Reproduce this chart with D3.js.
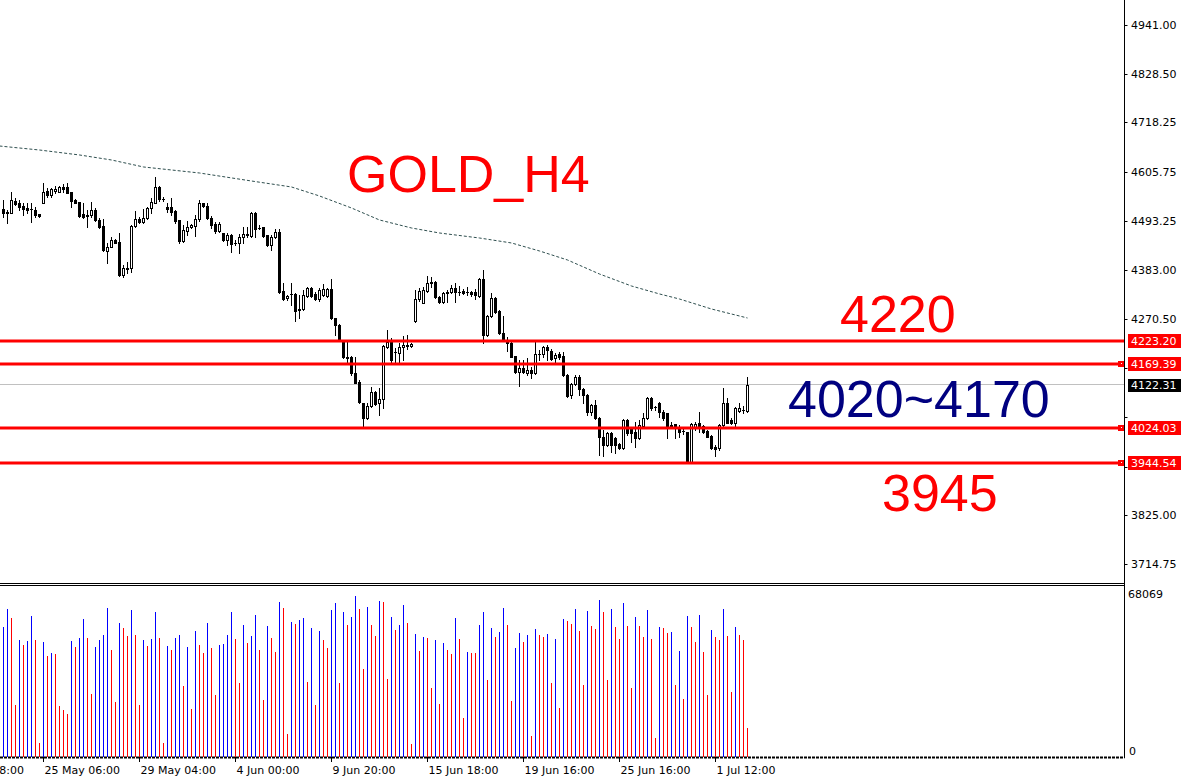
<!DOCTYPE html>
<html><head><meta charset="utf-8">
<script src="https://cdn.jsdelivr.net/npm/d3@7"></script>
<style>body{margin:0;background:#fff;} svg{display:block;}</style>
</head><body><svg id="c" width="1182" height="777"></svg>
<script>
// ---------- DATA ----------
const opens = [4521.7,4516.4,4512.6,4541.4,4536.9,4529.3,4524.0,4521.7,4520.2,4510.4,
4536.9,4564.2,4554.3,4563.4,4561.9,4571.7,4573.3,4560.4,4542.9,4539.2,
4510.4,4508.1,4508.1,4520.2,4497.5,4483.8,4427.7,4436.8,4452.0,4448.2,
4372.4,4386.5,4387.5,4483.8,4499.0,4493.7,4501.2,4524.0,4536.9,4573.3,
4545.2,4526.3,4526.3,4518.7,4497.5,4450.5,4473.2,4480.8,4484.6,4499.0,
4535.4,4529.3,4502.7,4488.4,4473.2,4467.1,4452.0,4463.4,4444.4,4444.4,
4458.1,4464.1,4461.1,4514.2,4480.0,4480.8,4462.6,4440.6,4459.6,4470.2,
4336.7,4319.2,4328.3,4328.3,4292.7,4294.2,4325.3,4342.0,4328.3,4316.9,
4326.8,4324.5,4339.7,4273.8,4258.6,4224.5,4186.6,4186.6,4148.7,4129.7,
4082.0,4046.4,4074.4,4107.0,4080.5,4089.6,4207.8,4220.7,4196.4,4194.2,
4207.8,4211.6,4210.8,4268.5,4316.9,4309.4,4336.7,4354.8,4357.1,4321.5,
4311.6,4330.6,4334.4,4342.0,4334.4,4335.9,4332.9,4334.4,4334.4,4324.5,
4363.2,4235.9,4279.1,4319.2,4291.2,4241.2,4224.5,4218.4,4188.1,4152.5,
4160.0,4150.2,4156.3,4148.7,4192.6,4192.6,4207.8,4200.2,4182.8,4192.6,
4188.1,4144.9,4099.4,4124.4,4141.1,4112.3,4099.4,4061.5,4076.6,4046.3,
4003.1,3985.7,4013.7,4000.8,3987.9,3978.1,4042.5,4021.3,4016.0,4000.8,
4028.9,4046.3,4091.8,4071.3,4080.4,4061.5,4057.7,4031.2,4032.7,4027.4,
4017.5,4016.0,3947.7,4027.4,4034.9,4028.9,4018.3,4006.2,3981.9,3978.1,
4031.2,4081.9,4042.5,4034.9,4063.8,4065.3,4063.0];
const highs = [4542.9,4520.2,4560.4,4546.7,4542.9,4535.4,4535.4,4535.4,4527.8,4511.1,
4580.8,4569.5,4569.5,4575.5,4574.8,4579.3,4580.8,4561.9,4544.5,4539.2,
4535.4,4520.2,4539.2,4524.0,4501.2,4499.0,4444.4,4459.6,4454.3,4467.1,
4395.1,4402.7,4486.1,4517.9,4505.1,4521.7,4527.8,4546.7,4596.0,4574.8,
4549.0,4536.9,4546.7,4520.2,4497.5,4486.1,4495.2,4488.4,4508.8,4542.9,
4536.9,4535.4,4506.6,4492.9,4493.7,4468.6,4467.1,4465.6,4452.0,4465.6,
4480.8,4482.3,4516.4,4515.6,4486.1,4482.3,4464.1,4463.4,4476.2,4476.2,
4353.3,4326.8,4353.3,4330.6,4326.8,4338.2,4345.8,4345.8,4334.4,4342.0,
4351.8,4342.0,4363.2,4273.8,4260.1,4224.5,4224.5,4188.1,4186.6,4133.5,
4082.0,4080.5,4116.8,4108.5,4114.6,4213.1,4247.2,4228.3,4205.5,4218.4,
4233.6,4235.9,4216.9,4338.2,4342.0,4344.2,4370.0,4368.5,4358.6,4324.5,
4334.4,4338.2,4349.5,4353.3,4347.3,4339.7,4344.2,4335.9,4339.7,4364.7,
4383.7,4281.3,4330.6,4321.5,4292.7,4279.1,4232.1,4220.7,4188.1,4179.0,
4179.0,4182.8,4162.3,4220.7,4201.7,4210.8,4213.1,4203.3,4194.2,4197.9,
4197.9,4147.2,4127.5,4144.9,4144.9,4114.5,4101.7,4078.9,4088.0,4048.6,
4019.8,4016.0,4016.0,4003.1,3989.5,4044.1,4044.1,4023.6,4038.7,4042.5,
4057.7,4095.6,4095.6,4074.4,4084.2,4065.3,4057.7,4038.7,4033.4,4031.2,
4021.3,4016.0,4034.9,4037.2,4061.5,4031.2,4019.8,4008.4,3985.7,4033.4,
4114.5,4091.8,4046.3,4072.9,4080.4,4074.4,4141.1];
const lows = [4505.1,4489.9,4512.6,4531.6,4520.2,4508.8,4512.6,4493.7,4505.1,4505.1,
4535.4,4550.5,4550.5,4558.1,4560.4,4561.9,4558.1,4527.8,4535.4,4505.1,
4501.2,4482.3,4505.1,4495.9,4478.5,4427.7,4400.4,4435.3,4444.4,4370.1,
4367.1,4376.2,4379.9,4482.3,4489.9,4491.4,4499.0,4512.6,4535.4,4541.4,
4541.4,4516.4,4508.8,4489.9,4445.9,4448.2,4463.4,4478.5,4461.1,4495.9,
4527.8,4499.0,4478.5,4468.6,4470.9,4450.5,4440.6,4425.4,4440.6,4423.2,
4444.4,4459.6,4458.1,4458.1,4477.7,4459.6,4438.3,4429.2,4455.8,4332.2,
4315.4,4315.4,4304.1,4268.5,4273.8,4292.7,4323.0,4323.0,4315.4,4313.9,
4324.5,4323.0,4271.5,4235.9,4223.0,4182.8,4171.4,4144.9,4125.9,4082.0,
4027.4,4044.1,4072.9,4076.7,4054.0,4070.6,4205.5,4171.4,4171.4,4171.4,
4179.0,4203.3,4209.3,4266.2,4313.9,4307.9,4334.4,4345.8,4319.2,4307.9,
4307.9,4311.6,4332.1,4311.6,4326.8,4328.3,4326.8,4324.5,4316.9,4323.0,
4218.4,4233.6,4276.1,4286.6,4238.1,4223.0,4200.2,4185.0,4150.2,4119.9,
4150.2,4144.9,4137.3,4147.2,4179.0,4185.0,4179.0,4179.0,4171.4,4180.5,
4142.6,4095.6,4091.8,4122.2,4099.4,4081.9,4053.9,4053.9,4044.1,3962.9,
3960.6,3983.4,3970.5,3968.2,3975.8,3976.6,4008.4,3993.3,3981.9,3998.6,
4025.9,4044.1,4065.3,4065.3,4048.6,4042.5,4000.8,4025.9,4000.8,4004.6,
4010.7,3945.5,3946.2,4019.8,4016.0,4012.2,4003.1,3975.8,3960.6,3974.3,
4027.4,4034.9,4033.4,4028.9,4061.5,4057.7,4061.5];
const closes = [4514.2,4514.2,4542.9,4533.9,4527.8,4521.7,4520.2,4522.5,4508.8,4506.6,
4561.9,4554.3,4567.2,4567.2,4571.7,4567.2,4559.6,4541.4,4536.9,4506.6,
4503.5,4507.5,4520.2,4497.5,4482.3,4429.2,4435.3,4452.0,4445.9,4372.4,
4387.5,4387.5,4483.8,4499.0,4493.7,4501.2,4524.0,4539.2,4571.7,4544.5,
4544.8,4522.5,4516.4,4495.9,4450.5,4474.7,4480.8,4486.1,4499.0,4535.4,
4529.3,4501.2,4486.1,4473.2,4487.6,4452.0,4463.4,4442.9,4444.0,4458.1,
4465.6,4464.5,4514.2,4477.0,4479.6,4461.1,4440.6,4459.6,4470.2,4334.5,
4316.9,4324.5,4328.7,4291.2,4294.2,4326.8,4342.0,4324.5,4316.9,4338.2,
4339.7,4339.7,4273.8,4258.6,4224.5,4185.0,4184.3,4148.7,4127.5,4084.2,
4046.4,4074.4,4107.0,4079.0,4089.6,4210.8,4220.7,4179.0,4196.0,4207.8,
4213.1,4212.0,4215.4,4316.9,4336.7,4338.2,4354.8,4355.2,4321.5,4311.6,
4332.1,4334.4,4342.0,4332.9,4334.0,4330.6,4333.3,4328.3,4326.8,4363.2,
4235.9,4279.1,4319.2,4288.9,4241.2,4224.5,4218.4,4186.6,4152.5,4160.0,
4152.5,4156.3,4150.2,4192.6,4193.0,4207.8,4201.7,4180.5,4190.4,4186.6,
4144.9,4097.1,4124.4,4141.1,4112.3,4099.4,4061.5,4076.6,4046.3,4003.1,
3985.7,4013.7,3985.7,3985.7,3978.1,4042.5,4012.2,4012.2,4000.8,4031.2,
4046.3,4091.8,4069.1,4071.0,4061.5,4046.3,4028.9,4027.4,4027.4,4016.0,
4017.1,3947.7,4032.7,4032.7,4027.4,4016.0,4004.6,3978.1,3975.8,4031.2,
4081.9,4036.4,4036.4,4069.1,4070.6,4065.6,4122.31];
const volumes = [55017,62596,58807,22175,49544,47438,49123,59649,49544,5754,
48701,42807,44070,43649,21754,20070,18386,49123,46596,50386,
58386,50386,26807,46596,49544,51649,63017,45333,23438,56701,
54596,51228,62175,51649,22175,49544,47017,49965,61333,50386,
5754,47017,45333,50386,51649,30175,46596,20491,53333,47438,
44070,56701,46175,26386,47438,47859,51649,61333,49965,31438,
55859,48280,51228,60070,45333,24281,55438,50386,44491,65543,
63017,9544,57122,56280,57965,58807,31859,54596,22175,53333,
49544,46175,62175,65122,31438,61333,55859,59228,68069,62596,
37333,63438,55859,51228,65965,65543,33123,59228,53754,55859,
64280,56701,5333,52070,44912,50807,50386,29333,49544,22596,
48280,45333,43649,58807,49965,16281,44491,44070,43789,55859,
61333,32702,54596,50807,52912,63017,55859,23860,46175,52491,
48701,51649,8702,54175,51649,50807,52070,31438,49965,20912,
58386,57544,56280,62596,53333,30596,61754,55438,54175,66386,
61333,32702,62596,55017,49965,65122,55438,29333,59228,55438,
50807,62175,49965,7860,55017,54596,52491,52912,30596,44912,
24702,59649,55017,48701,60070,44491,26386,53754,50807,49544,
62596,51228,27649,55017,51649,49544,12070];
// moving average (sampled at bar indices)
const maBars   = [-1, 9, 19, 27, 35, 49, 62, 72, 79, 87, 94, 102, 109, 119, 127, 134, 141, 149, 157, 164, 169, 177, 186];
const maValues = [4665.7,4656.6,4645.3,4633.9,4618.0,4604.3,4586.1,4572.5,4552.0,4524.7,4497.4,4479.2,4467.8,4456.4,4445.1,4426.9,4406.4,4374.5,4347.2,4329.1,4317.6,4294.9,4274.4];
const priceTicks = [4941.00,4828.50,4718.25,4605.75,4493.25,4383.00,4270.50,4160.25,4047.75,3935.25,3825.00,3714.75];
const timeTickBars = [-14,10,34,58,82,106,130,154,178];
const timeTickLabels = ["20 May 08:00","25 May 06:00","29 May 04:00","4 Jun 00:00","9 Jun 20:00","15 Jun 18:00","19 Jun 16:00","25 Jun 16:00","1 Jul 12:00"];
const levels = [4223.20, 4169.39, 4024.03, 3944.54];
const levelMarkers = [false, true, true, true];
const currentPrice = 4122.31;
const volumeMax = 68069;
const title = "GOLD_H4";
const notes = [{t:"4220", p:"r1"},{t:"4020~4170", p:"mid"},{t:"3945", p:"s1"}];

// ---------- DRAW ----------
const svg = d3.select("#c");
const axisX = 1124.5;
const x = d3.scaleLinear().domain([0,186]).range([3.5,747.5]);
const y = d3.scaleLinear().domain([3714.75,4941]).range([564,25]);
const yv = d3.scaleLinear().domain([0,volumeMax]).range([757,596]);
const font = "DejaVu Sans, Verdana, sans-serif";
const crisp = v => Math.round(v - 0.5) + 0.5;

svg.append("rect").attr("width",1182).attr("height",777).attr("fill","#fff");

// current price gray line
svg.append("line").attr("x1",0).attr("x2",axisX).attr("y1",crisp(y(currentPrice))).attr("y2",crisp(y(currentPrice)))
  .attr("stroke","#c0c0c0").attr("stroke-width",1);

// moving average
const maPts = maBars.map((b,i)=>[b,maValues[i]]);
svg.append("path").attr("d", d3.line().x(d=>x(d[0])).y(d=>y(d[1]))(maPts))
  .attr("fill","none").attr("stroke","#2f4f4f").attr("stroke-width",1).attr("stroke-dasharray","3,2");

// candles
const gC = svg.append("g");
opens.forEach((o,i)=>{
  const c = closes[i], cx = x(i);
  gC.append("line").attr("x1",cx).attr("x2",cx)
    .attr("y1",Math.round(y(highs[i]))).attr("y2",Math.round(y(lows[i]))+1)
    .attr("stroke","#000").attr("stroke-width",1);
  const top = Math.round(y(Math.max(o,c))), bot = Math.round(y(Math.min(o,c)));
  if (bot - top < 2) {
    gC.append("rect").attr("x",cx-1.5).attr("y",top).attr("width",3).attr("height",Math.max(1,bot-top+1)).attr("fill","#000");
  } else if (c >= o) {
    gC.append("rect").attr("x",cx-1).attr("y",top+0.5).attr("width",2).attr("height",bot-top)
      .attr("fill","#fff").attr("stroke","#000").attr("stroke-width",1);
  } else {
    gC.append("rect").attr("x",cx-1.5).attr("y",top).attr("width",3).attr("height",bot-top+1).attr("fill","#000");
  }
});

// level lines
levels.forEach((lv,i)=>{
  const ly = Math.round(y(lv));
  svg.append("rect").attr("x",0).attr("y",ly-1.5).attr("width",levelMarkers[i]?1118:1124).attr("height",3).attr("fill","#ff0000");
  if (levelMarkers[i]) {
    svg.append("rect").attr("x",1118).attr("y",ly-3).attr("width",6).attr("height",6).attr("fill","#ff0000");
    svg.append("rect").attr("x",1121).attr("y",ly-1).attr("width",1).attr("height",1).attr("fill","#fff");
  }
});

// big annotation texts
svg.append("text").attr("x",347).attr("y",192).text(title)
  .attr("font-family","Liberation Sans, Arial, sans-serif").attr("font-size",52).attr("fill","#ff0000");
const notePos = {r1:[840,332,"#ff0000"], mid:[788,417,"#000080"], s1:[882,511,"#ff0000"]};
notes.forEach(n=>{
  const p = notePos[n.p];
  svg.append("text").attr("x",p[0]).attr("y",p[1]).text(n.t)
    .attr("font-family","Liberation Sans, Arial, sans-serif").attr("font-size",52).attr("fill",p[2]);
});

// volume bars
const gV = svg.append("g");
volumes.forEach((v,i)=>{
  const up = i===0 || v >= volumes[i-1];
  gV.append("line").attr("x1",x(i)).attr("x2",x(i)).attr("y1",Math.round(yv(v))).attr("y2",757)
    .attr("stroke", up ? "#0000ff" : "#ff0000").attr("stroke-width",1);
});

// pane separator
[583.5,585.5].forEach(sy=>svg.append("line").attr("x1",0).attr("x2",axisX).attr("y1",sy).attr("y2",sy).attr("stroke","#000"));
// baseline dashed
svg.append("line").attr("x1",0).attr("x2",axisX).attr("y1",757.5).attr("y2",757.5)
  .attr("stroke","#000").attr("stroke-width",2).attr("stroke-dasharray","3,1");
// right axis line
svg.append("line").attr("x1",axisX).attr("x2",axisX).attr("y1",0).attr("y2",758).attr("stroke","#000");

// price axis (labels hidden behind level boxes are skipped)
const gY = svg.append("g");
const boxYs = levels.map(lv=>y(lv)).concat([y(currentPrice)]);
priceTicks.forEach(p=>{
  const ty = crisp(y(p));
  gY.append("line").attr("x1",axisX).attr("x2",axisX+3).attr("y1",ty).attr("y2",ty).attr("stroke","#000");
  if (boxYs.some(by=>Math.abs(by-ty)<12)) return;
  gY.append("text").attr("x",1131).attr("y",ty).attr("dy","0.35em").text(d3.format(".2f")(p))
    .attr("font-family",font).attr("font-size",11).attr("fill","#000");
});
// level labels
levels.forEach(lv=>{
  const ly = Math.round(y(lv));
  gY.append("rect").attr("x",1128).attr("y",ly-7).attr("width",53).attr("height",14).attr("fill","#ff0000");
  gY.append("text").attr("x",1131).attr("y",ly).attr("dy","0.36em").text(d3.format(".2f")(lv))
    .attr("font-family",font).attr("font-size",11).attr("fill","#fff");
});
// current price label
{
  const cy = Math.round(y(currentPrice));
  gY.append("rect").attr("x",1128).attr("y",cy-6).attr("width",53).attr("height",13).attr("fill","#000");
  gY.append("text").attr("x",1131).attr("y",cy).attr("dy","0.38em").text(d3.format(".2f")(currentPrice))
    .attr("font-family",font).attr("font-size",11).attr("fill","#fff");
}
// volume axis labels
gY.append("text").attr("x",1128).attr("y",yv(volumeMax)-2).attr("dy","0.35em").text(String(volumeMax))
  .attr("font-family",font).attr("font-size",11).attr("fill","#000");
gY.append("text").attr("x",1129).attr("y",751).attr("dy","0.35em").text("0")
  .attr("font-family",font).attr("font-size",11).attr("fill","#000");

// time axis
const gX = svg.append("g");
timeTickBars.forEach((b,i)=>{
  const tx = x(b);
  gX.append("line").attr("x1",tx).attr("x2",tx).attr("y1",757).attr("y2",762).attr("stroke","#000");
  gX.append("text").attr("x",tx+1).attr("y",774).text(timeTickLabels[i])
    .attr("font-family",font).attr("font-size",11).attr("fill","#000");
});
</script></body></html>
